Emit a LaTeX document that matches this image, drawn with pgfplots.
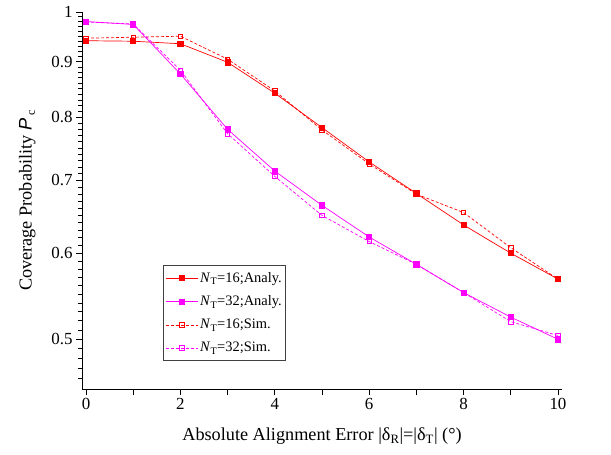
\documentclass[border=0pt]{standalone}
\usepackage{fontspec}
\setmainfont{Liberation Serif}
\newfontfamily\arialfont{Liberation Sans}
\usepackage{pgfplots}
\pgfplotsset{compat=1.18}
\definecolor{mag}{RGB}{255,0,255}
\definecolor{rd}{RGB}{255,0,0}

\begin{document}
\begin{tikzpicture}
\begin{axis}[
    name=ax,
    scale only axis, width=480bp, height=377bp,
    ymode=log, log basis y=10,
    xmin=-0.085, xmax=10.085, ymin=0.45, ymax=1,
    axis lines=left, axis line style={-, line width=0.9pt},
    xtick={0,1,2,3,4,5,6,7,8,9,10},
    xticklabels={0,,2,,4,,6,,8,,10},
    ytick={0.5,0.6,0.7,0.8,0.9,1},
    yticklabels={0.5,0.6,0.7,0.8,0.9,1},
    extra y ticks={0.46,0.47,0.48,0.49,0.51,0.52,0.53,0.54,0.55,0.56,0.57,0.58,0.59,
      0.61,0.62,0.63,0.64,0.65,0.66,0.67,0.68,0.69,0.71,0.72,0.73,0.74,0.75,0.76,0.77,0.78,0.79,
      0.81,0.82,0.83,0.84,0.85,0.86,0.87,0.88,0.89,0.91,0.92,0.93,0.94,0.95,0.96,0.97,0.98,0.99},
    extra y tick labels={},
    extra y tick style={major tick length=4bp},
    tick align=outside, major tick length=6bp,
    every tick/.style={black, line width=0.8pt},
    tick label style={font=\fontsize{17}{19}\selectfont},
    label style={font=\fontsize{18.3}{21}\selectfont},
    xlabel={Absolute Alignment Error |δ\textsubscript{R}|=|δ\textsubscript{T}| (°)},
    ylabel={Coverage Probability {\arialfont\itshape P}\,\raisebox{-0.4ex}{\fontsize{12}{13}\selectfont c}},
    xlabel style={yshift=-11bp},
    ylabel style={yshift=-1bp},
    legend style={at={(0.169,0.329)}, anchor=north west, draw=black!75, line width=0.8pt,
      font=\fontsize{14.5}{16}\selectfont, inner sep=2bp, row sep=8bp, inner ysep=5bp},
    legend cell align=left,
    legend image code/.code={\draw[mark repeat=2,mark phase=2] plot coordinates {(0bp,0bp) (16bp,0bp) (32bp,0bp)};},
]
\addplot[rd, line width=0.7pt, mark=square*, mark size=2.6bp, mark options={solid, fill=rd}] coordinates {
(0,0.941) (1,0.940) (2,0.935) (3,0.899) (4,0.842) (5,0.783) (6,0.728) (7,0.681) (8,0.637) (9,0.600) (10,0.568)
};
\addlegendentry{\textit{N}\textsubscript{T}=16;Analy.}
\addplot[mag, line width=0.7pt, mark=square*, mark size=2.6bp, mark options={solid, fill=mag}] coordinates {
(0,0.980) (1,0.974) (2,0.877) (3,0.780) (4,0.714) (5,0.664) (6,0.621) (7,0.586) (8,0.552) (9,0.524) (10,0.500)
};
\addlegendentry{\textit{N}\textsubscript{T}=32;Analy.}
\addplot[rd, line width=0.7pt, dash pattern=on 3bp off 2bp, mark=square, mark size=2.2bp, mark options={solid, fill=white}] coordinates {
(0,0.946) (1,0.948) (2,0.950) (3,0.905) (4,0.846) (5,0.779) (6,0.725) (7,0.680) (8,0.654) (9,0.607) (10,0.568)
};
\addlegendentry{\textit{N}\textsubscript{T}=16;Sim.}
\addplot[mag, line width=0.7pt, dash pattern=on 3bp off 2bp, mark=square, mark size=2.2bp, mark options={solid, fill=white}] coordinates {
(0,0.979) (1,0.975) (2,0.884) (3,0.773) (4,0.706) (5,0.650) (6,0.615) (7,0.586) (8,0.552) (9,0.519) (10,0.504)
};
\addlegendentry{\textit{N}\textsubscript{T}=32;Sim.}
\end{axis}
\path (ax.south west) ++(-82bp,-65bp) coordinate (bl);
\path (ax.north east) ++(49bp,12bp) coordinate (tr);
\path (bl) rectangle (tr);
\end{tikzpicture}
\end{document}
